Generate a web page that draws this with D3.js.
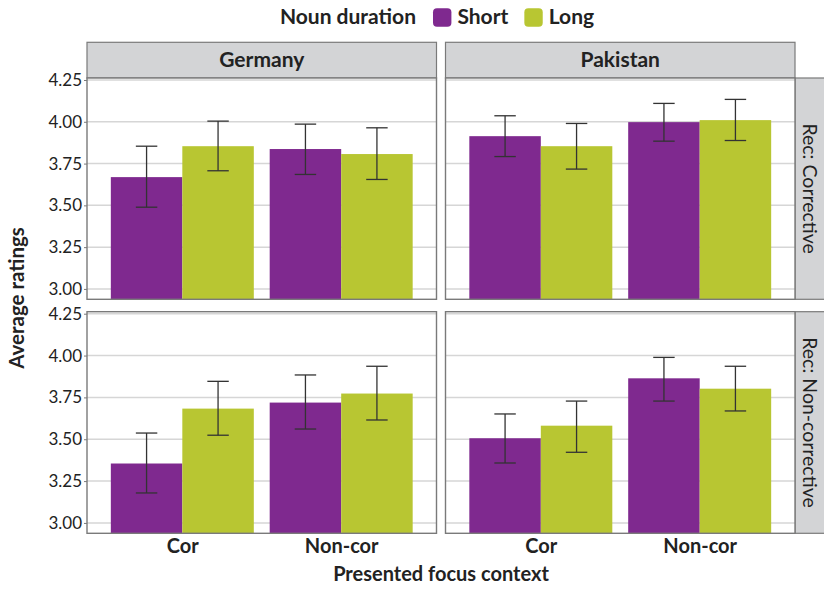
<!DOCTYPE html>
<html>
<head>
<meta charset="utf-8">
<script src="https://cdn.jsdelivr.net/npm/d3@7"></script>
<style>
  html, body { margin: 0; padding: 0; background: #fff; }
  svg { display: block; }
  text { font-family: Lato, "Open Sans", sans-serif; fill: #222; }
</style>
</head>
<body>
<svg id="chart" width="824" height="589"></svg>
<script>
// ---- data ----
const countries = ["Germany", "Pakistan"];
const recTypes = ["Rec: Corrective", "Rec: Non-corrective"];
const contexts = ["Cor", "Non-cor"];
const durations = ["Short", "Long"];
const yTicks = [3.00, 3.25, 3.50, 3.75, 4.00, 4.25];

// means: [context][duration]
const meanCorrGermany   = [[3.669, 3.854], [3.837, 3.807]];
const meanCorrPakistan  = [[3.914, 3.854], [3.998, 4.010]];
const meanNonGermany    = [[3.355, 3.683], [3.719, 3.773]];
const meanNonPakistan   = [[3.506, 3.581], [3.864, 3.802]];
// error bar lower / upper
const loCorrGermany  = [[3.489, 3.707], [3.685, 3.655]];
const hiCorrGermany  = [[3.854, 4.004], [3.986, 3.964]];
const loCorrPakistan = [[3.792, 3.717], [3.884, 3.888]];
const hiCorrPakistan = [[4.036, 3.990], [4.110, 4.134]];
const loNonGermany   = [[3.179, 3.524], [3.561, 3.615]];
const hiNonGermany   = [[3.537, 3.846], [3.884, 3.936]];
const loNonPakistan  = [[3.358, 3.422], [3.728, 3.669]];
const hiNonPakistan  = [[3.651, 3.728], [3.989, 3.936]];

const colors = { Short: "#7f298f", Long: "#b8c632" };

const panelData = [
  { rec: 0, country: 0, mean: meanCorrGermany,  lo: loCorrGermany,  hi: hiCorrGermany },
  { rec: 0, country: 1, mean: meanCorrPakistan, lo: loCorrPakistan, hi: hiCorrPakistan },
  { rec: 1, country: 0, mean: meanNonGermany,   lo: loNonGermany,   hi: hiNonGermany },
  { rec: 1, country: 1, mean: meanNonPakistan,  lo: loNonPakistan,  hi: hiNonPakistan }
];

// ---- layout ----
const cols = [[87, 436.5], [445.5, 795]];
const rows = [[78, 299.3], [311.7, 533.3]];
const stripTop = [42.3, 78];
const stripRight = [795, 832];
const yDomain = [2.938, 4.262];

const svg = d3.select("#chart");

// legend (laid out by measured widths, centred like the reference)
const legend = svg.append("g");
const legFont = 21, keySize = 18.4;
const legTitle = legend.append("text").attr("y", 24).attr("font-size", legFont).attr("font-weight", 700).text("Noun duration");
const legItems = durations.map(d => ({
  d,
  rect: legend.append("rect").attr("y", 8.3).attr("width", keySize).attr("height", keySize).attr("rx", 4).attr("fill", colors[d]),
  text: legend.append("text").attr("y", 24).attr("font-size", legFont).attr("font-weight", 700).text(d)
}));
{
  const tw = legTitle.node().getComputedTextLength();
  const widths = legItems.map(it => it.text.node().getComputedTextLength());
  const total = tw + 17 + widths.reduce((a, w) => a + keySize + 6 + w, 0) + 16 * (legItems.length - 1);
  let cx = 437 - total / 2;
  legTitle.attr("x", cx);
  cx += tw + 17;
  legItems.forEach((it, i) => {
    it.rect.attr("x", cx);
    cx += keySize + 6;
    it.text.attr("x", cx);
    cx += widths[i] + 16;
  });
}

// top strips
countries.forEach((c, ci) => {
  const [x0, x1] = cols[ci];
  svg.append("rect").attr("x", x0).attr("y", stripTop[0]).attr("width", x1 - x0).attr("height", stripTop[1] - stripTop[0])
    .attr("fill", "#d3d4d6").attr("stroke", "#7a7a7a").attr("stroke-width", 1.2);
  svg.append("text").attr("x", (x0 + x1) / 2).attr("y", 66.5)
    .attr("text-anchor", "middle").attr("font-size", 21).attr("font-weight", 700).text(c);
});

// right strips
recTypes.forEach((r, ri) => {
  const [y0, y1] = rows[ri];
  svg.append("rect").attr("x", stripRight[0]).attr("y", y0).attr("width", stripRight[1] - stripRight[0]).attr("height", y1 - y0)
    .attr("fill", "#d3d4d6").attr("stroke", "#7a7a7a").attr("stroke-width", 1.2);
  const cx = 810, cy = (y0 + y1) / 2;
  svg.append("text").attr("transform", `translate(${cx},${cy}) rotate(90)`)
    .attr("text-anchor", "middle").attr("dy", "0.35em").attr("font-size", 19.5).attr("font-weight", 400).text(r);
});

// panels
panelData.forEach(p => {
  const [x0, x1] = cols[p.country];
  const [y0, y1] = rows[p.rec];
  const y = d3.scaleLinear().domain(yDomain).range([y1, y0]);
  const x = d3.scalePoint().domain(contexts).range([x0, x1]).padding(0.6);
  const bw = x.step() * 0.45;
  const g = svg.append("g");

  g.append("rect").attr("x", x0).attr("y", y0).attr("width", x1 - x0).attr("height", y1 - y0).attr("fill", "#fff");
  g.selectAll("line.grid").data(yTicks).join("line")
    .attr("x1", x0).attr("x2", x1).attr("y1", d => y(d)).attr("y2", d => y(d))
    .attr("stroke", "#d6d6d6").attr("stroke-width", 1.5);

  const bars = [];
  contexts.forEach((ctx, i) => durations.forEach((dur, j) => {
    bars.push({ ctx, dur, v: p.mean[i][j], lo: p.lo[i][j], hi: p.hi[i][j], xs: x(ctx) - bw + j * bw });
  }));
  g.selectAll("rect.bar").data(bars).join("rect")
    .attr("x", d => d.xs).attr("width", bw)
    .attr("y", d => y(d.v)).attr("height", d => y1 - y(d.v))
    .attr("fill", d => colors[d.dur]);

  const cap = bw * 0.3;
  bars.forEach(d => {
    const cx = d.xs + bw / 2;
    const eg = g.append("g").attr("stroke", "#333").attr("stroke-width", 1.3);
    eg.append("line").attr("x1", cx).attr("x2", cx).attr("y1", y(d.hi)).attr("y2", y(d.lo));
    eg.append("line").attr("x1", cx - cap / 2).attr("x2", cx + cap / 2).attr("y1", y(d.hi)).attr("y2", y(d.hi));
    eg.append("line").attr("x1", cx - cap / 2).attr("x2", cx + cap / 2).attr("y1", y(d.lo)).attr("y2", y(d.lo));
  });

  g.append("rect").attr("x", x0).attr("y", y0).attr("width", x1 - x0).attr("height", y1 - y0)
    .attr("fill", "none").attr("stroke", "#7a7a7a").attr("stroke-width", 1.4);

  if (p.country === 0) {
    const ax = svg.append("g").attr("transform", `translate(${x0},0)`)
      .call(d3.axisLeft(y).tickValues(yTicks).tickFormat(d3.format(".2f")).tickSize(3).tickPadding(2));
    ax.select(".domain").remove();
    ax.selectAll(".tick line").attr("stroke", "#7a7a7a");
    ax.selectAll(".tick text").attr("font-size", 17).attr("fill", "#333")
      .attr("font-family", "Lato, sans-serif");
  }
  if (p.rec === 1) {
    const ax = svg.append("g").attr("transform", `translate(0,${y1})`)
      .call(d3.axisBottom(x).tickSize(0).tickPadding(5.5));
    ax.select(".domain").remove();
    ax.selectAll(".tick text").attr("font-size", 20).attr("font-weight", 700).attr("fill", "#222")
      .attr("font-family", "Lato, sans-serif");
  }
});

// axis titles
svg.append("text").attr("x", 441).attr("y", 581).attr("text-anchor", "middle")
  .attr("font-size", 20).attr("font-weight", 700).text("Presented focus context");
svg.append("text").attr("transform", "translate(24,298) rotate(-90)").attr("text-anchor", "middle")
  .attr("font-size", 20.5).attr("font-weight", 700).text("Average ratings");
</script>
</body>
</html>
